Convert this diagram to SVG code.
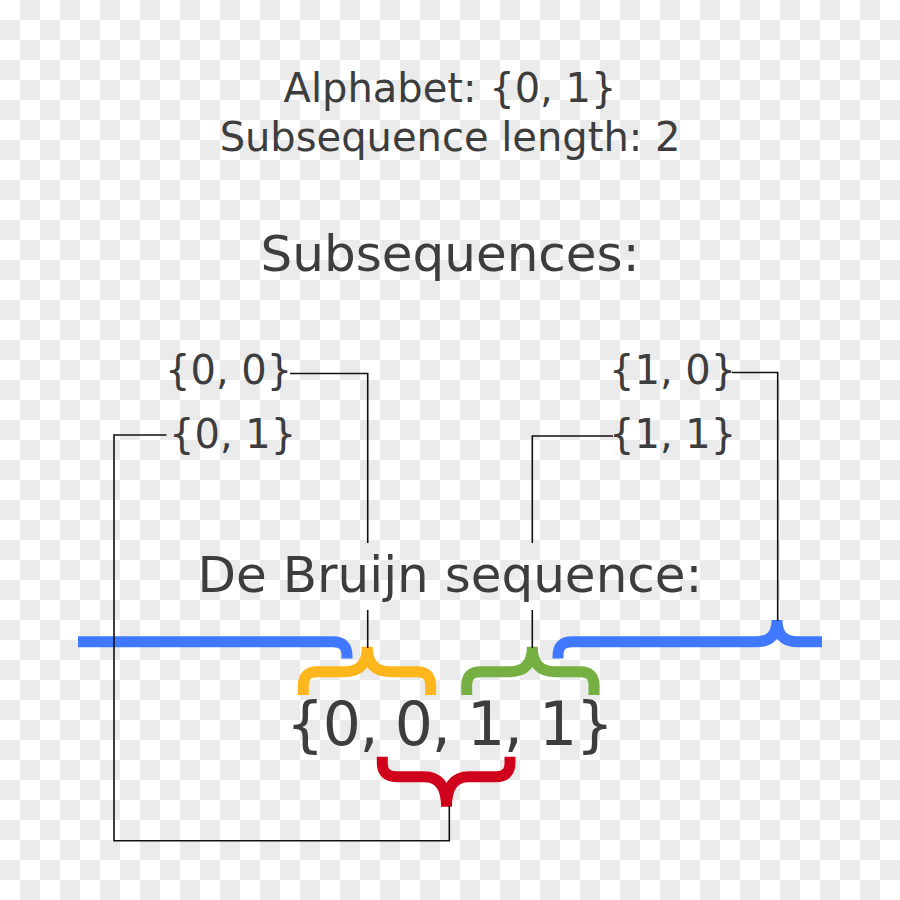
<svg xmlns="http://www.w3.org/2000/svg" width="900" height="900" viewBox="0 0 900 900">
<style>
text{font-family:"DejaVu Sans","Liberation Sans",sans-serif;fill:#3d3d3d}
.t{font-size:40px;text-anchor:middle}
.h{font-size:50px;text-anchor:middle}
.l{font-size:40px}
.seq{font-size:60px;text-anchor:middle}
.br{fill:none;stroke-width:11;stroke-linecap:butt;stroke-linejoin:miter}
.c{fill:none;stroke:#111;stroke-width:1.6}
</style>
<defs>
<pattern id="chk" width="40" height="40" patternUnits="userSpaceOnUse">
<rect width="40" height="40" fill="#ffffff"/>
<rect x="20" y="0" width="20" height="20" fill="#ebebeb"/>
<rect x="0" y="20" width="20" height="20" fill="#ebebeb"/>
</pattern>
</defs>
<rect width="900" height="900" fill="url(#chk)"/>
<g id="title">
<text class="t" x="450" y="101.5">Alphabet: {0, 1}</text>
<text class="t" x="450" y="151">Subsequence length: 2</text>
</g>
<g id="subseq-heading"><text class="h" x="450" y="271">Subsequences:</text></g>
<g id="s00"><text class="l" x="165" y="384">{0, 0}</text></g>
<g id="s01"><text class="l" x="169" y="448">{0, 1}</text></g>
<g id="s10"><text class="l" x="609" y="384">{1, 0}</text></g>
<g id="s11"><text class="l" x="609" y="448">{1, 1}</text></g>
<g id="debruijn-heading"><text class="h" x="450" y="592">De Bruijn sequence:</text></g>
<g id="braces">
<path id="brace-blue" class="br" stroke="#4079ff" d="M78,641.7 H333 Q347,641.7 347,655.7 V658.5 M558,658.5 V655.7 Q558,641.7 572,641.7 H757 Q777,641.7 777,620 M777,620 Q777,641.7 797,641.7 H822"/>
<path id="brace-yellow" class="br" stroke="#feb61d" d="M303.3,695 V685.7 Q303.3,671.7 317.3,671.7 H345 Q367.3,671.7 367.3,646.7 M367.3,646.7 Q367.3,671.7 389.6,671.7 H416.7 Q430.7,671.7 430.7,685.7 V695"/>
<path id="brace-green" class="br" stroke="#76b043" d="M466.7,695 V685.7 Q466.7,671.7 480.7,671.7 H510 Q532.3,671.7 532.3,646.7 M532.3,646.7 Q532.3,671.7 554.6,671.7 H580 Q594,671.7 594,685.7 V695"/>
<path id="brace-red" class="br" stroke="#d0021b" d="M382.3,756.7 V762.7 Q382.3,776.7 396.3,776.7 H424 Q446.5,776.7 446.5,806.7 M446.5,806.7 Q446.5,776.7 469,776.7 H496 Q510,776.7 510,762.7 V756.7"/>
</g>
<g id="sequence"><text class="seq" x="450" y="745" textLength="328" lengthAdjust="spacing">{0, 0, 1, 1}</text></g>
<g id="connectors">
<path class="c" d="M290,373.5 H367.7 V543 M367.7,610 V648"/>
<path class="c" d="M166.5,435 H114 V840.7 H449.3 V806"/>
<path class="c" d="M732,372.5 H777.7 V621"/>
<path class="c" d="M613,436 H532.3 V543 M532.3,610 V648"/>
</g>
</svg>
